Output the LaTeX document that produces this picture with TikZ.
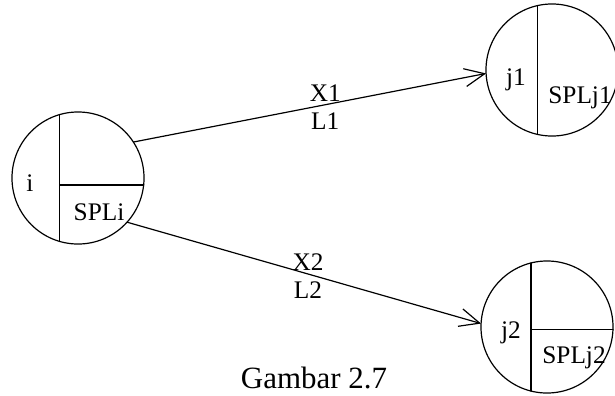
\documentclass[tikz,border=0pt]{standalone}
\usepackage{fontspec}
\setmainfont{Liberation Serif}
\usetikzlibrary{arrows.meta}

\begin{document}
\begin{tikzpicture}[x=0.025cm, y=-0.025cm, line cap=round, line join=round]

\def\nodeD{3.3cm}
\def\lineW{0.85pt}

\tikzset{
  vertex/.style={draw, circle, minimum size=\nodeD, inner sep=0pt,
                 outer sep=0pt, line width=\lineW},
  lab/.style={font=\fontsize{18}{21}\selectfont, inner sep=2pt},
  divider/.style={line width=\lineW},
  link/.style={line width=\lineW,
               -{Straight Barb[length=5mm, width=4.5mm]}},
}

\useasboundingbox (0,0) rectangle (615,395);

% vertices
\node[vertex] (i) at (78,178) {};
\node[vertex] (j1) at (552,70) {};
\node[vertex] (j2) at (547,327) {};

% dividers
\draw[divider] (i.106.7) -- (i.-106.7);
\draw[divider] (i.-6) -- (i.-6 -| i.106.7);
\draw[divider] (j1.103.1) -- (j1.-103.1);
\draw[divider] (j2.104.9) -- (j2.-104.9);
\draw[divider] (j2.-2.6) -- (j2.-2.6 -| j2.104.9);

% labels in vertices
\node[lab] (ilab) at (30,183) {i};
\node[lab] (isp) at (99,212) {SPLi};
\node[lab] (j1lab) at (516,80) {j1};
\node[lab] (j1sp) at (580,98) {SPLj1};
\node[lab] (j2lab) at (511,333) {j2};
\node[lab] (j2sp) at (574,358) {SPLj2};

% links
\draw[link] (i.33) -- (j1.183)
  node[lab, pos=0.544, above] (x1) {X1}
  node[lab, pos=0.544, below=3pt] (l1) {L1};
\draw[link] (i.-42) -- (j2.177)
  node[lab, pos=0.511, above] (x2) {X2}
  node[lab, pos=0.511, below=3pt] (l2) {L2};

% caption
\node[font=\fontsize{22}{26}\selectfont, anchor=base, inner sep=1pt]
  (cap) at (314,388) {Gambar 2.7};

\end{tikzpicture}
\end{document}
